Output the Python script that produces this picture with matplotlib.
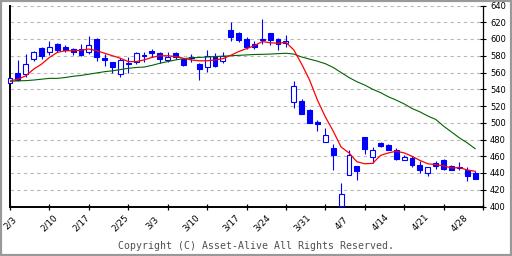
import matplotlib
matplotlib.use('Agg')
import matplotlib.pyplot as plt
from matplotlib.patches import Rectangle
import numpy as np

# ---- data ----
date_labels = ['2/3', '2/10', '2/17', '2/25', '3/3', '3/10', '3/17', '3/24',
               '3/31', '4/7', '4/14', '4/21', '4/28']
date_label_idx = [0, 5, 9, 14, 18, 23, 28, 32, 37, 42, 47, 52, 57]

opens = [548, 560, 558, 576, 589, 585, 594, 591, 588, 588,
         585, 600, 577, 572, 558, 570, 572, 581, 586, 583,
         575, 583, 576, 578, 570, 566, 580, 574, 611, 607,
         600, 594, 599, 607, 600, 595, 525, 526, 515, 501,
         477, 470, 401, 438, 448, 483, 459, 476, 474, 468,
         455, 458, 450, 440, 452, 455, 448, 447, 444, 440]
highs = [553, 575, 582, 586, 591, 598, 595, 593, 589, 594,
         604, 601, 582, 573, 577, 578, 584, 584, 588, 585,
         584, 584, 577, 582, 571, 587, 583, 584, 620, 608,
         602, 598, 624, 607, 601, 605, 550, 528, 516, 503,
         494, 475, 428, 468, 448, 483, 471, 477, 475, 470,
         461, 460, 454, 447, 454, 457, 450, 453, 447, 442]
lows = [548, 550, 555, 574, 576, 581, 585, 584, 581, 580,
        582, 574, 568, 560, 555, 560, 570, 572, 578, 571,
        572, 576, 568, 573, 551, 561, 567, 571, 598, 597,
        588, 588, 594, 593, 587, 590, 518, 510, 500, 490,
        477, 443, 401, 438, 432, 463, 452, 471, 467, 456,
        455, 447, 440, 437, 445, 444, 443, 443, 430, 433]
closes = [553, 551, 570, 585, 580, 590, 587, 587, 585, 581,
          593, 578, 575, 566, 575, 571, 583, 580, 583, 576,
          578, 578, 569, 577.5, 564, 580, 568, 580, 602, 599,
          590, 591, 600, 599, 594, 598, 544, 510, 500, 498,
          485, 462, 415, 462, 442, 469, 467, 472, 468, 457,
          459, 449, 443, 447, 448, 445, 444, 446, 436, 433]
ma_short = [550, 552, 556, 564, 570, 578, 584, 586, 586, 586.5,
            588, 586, 583, 580, 577, 573, 573, 575, 578, 580,
            580, 579, 577, 575, 574, 574, 575, 576.5, 580.5, 585,
            588.5, 592, 597, 595.5, 595, 596, 587, 570, 551, 527,
            507, 490, 471, 464, 453.5, 451, 451.5, 461, 464, 466,
            464, 460, 455, 451, 450, 448.5, 446, 446.5, 443.6, 442]
ma_long = [549.5, 550, 550.3, 551, 552, 553, 553, 554, 555.5, 556.5,
           558, 559.5, 561, 562, 563.5, 565, 566, 566.5, 568.5, 571,
           573, 575, 576.5, 577.5, 578, 578.5, 579, 579.5, 580, 580.5,
           581, 581.5, 581.7, 582, 582.5, 583, 582, 578.5, 576, 573.5,
           570.5, 566, 560, 554, 549, 545, 540, 536, 531, 527,
           522.5, 517, 513, 508, 504, 496, 489, 482, 476, 469]
y_ticks = list(range(400, 641, 20))

# ---- figure ----
W, H = 512, 256
fig = plt.figure(figsize=(W / 100, H / 100), dpi=100)
fig.patch.set_facecolor('white')
ax = fig.add_axes([10 / W, 1 - 206.5 / H, 473 / W, 201 / H])
ax.set_facecolor('white')

x = np.arange(len(opens))
o = np.array(opens, float)
c = np.array(closes, float)
hi = np.array(highs, float)
lo = np.array(lows, float)
up = c >= o
blue = '#0000FF'

ax.vlines(x, lo, hi, color=blue, linewidth=0.8, zorder=3, clip_on=False)
ax.bar(x[up], c[up] - o[up], bottom=o[up], width=0.62, facecolor='white',
       edgecolor=blue, linewidth=0.8, zorder=4, clip_on=False)
ax.bar(x[~up], c[~up] - o[~up], bottom=o[~up], width=0.62, facecolor=blue,
       edgecolor=blue, linewidth=0.8, zorder=4, clip_on=False)

ax.plot(x, ma_long, color='#006400', linewidth=0.8, zorder=5)
ax.plot(x, ma_short, color='#FF0000', linewidth=0.9, zorder=6)

ax.set_xlim(0, 60)
ax.set_ylim(400, 640)

# y axis on the right
ax.yaxis.tick_right()
ax.set_yticks(y_ticks)
ax.set_yticklabels([str(v) for v in y_ticks])
ax.tick_params(axis='y', which='major', direction='inout', length=5,
               width=0.8, pad=2.5, labelsize=6, colors='black')
ax.yaxis.grid(True, color='#b8b8b8', linestyle=(0, (3, 3)), linewidth=0.8)
ax.set_axisbelow(True)

# x axis: week ticks every 5 bars, date labels at the dates' bars
ax.xaxis.remove_overlapping_locs = False
ax.set_xticks(range(0, 61, 5))
ax.set_xticklabels([])
ax.tick_params(axis='x', which='major', direction='inout', length=4.5,
               width=0.9)
ax.set_xticks(date_label_idx, minor=True)
ax.set_xticklabels(date_labels, minor=True)
ax.tick_params(axis='x', which='minor', length=0, pad=11.5, labelsize=6.3)
for lbl in ax.get_xticklabels(minor=True):
    lbl.set_rotation(45)
    lbl.set_ha('center')
    lbl.set_va('center')
    lbl.set_rotation_mode('anchor')

ax.spines['top'].set_visible(False)
ax.spines['left'].set_linewidth(1.4)
ax.spines['bottom'].set_linewidth(1.4)
ax.spines['right'].set_linewidth(0.9)

fig.text(0.5, 1 - 246 / H, 'Copyright (C) Asset-Alive All Rights Reserved.',
         ha='center', va='center', family='DejaVu Sans Mono', size=7.1,
         color='#505050')

fig.patches.append(Rectangle((0, 0), 1, 1, transform=fig.transFigure,
                             fill=False, edgecolor='#999999', linewidth=3))

fig.savefig('out.png', dpi=100)
